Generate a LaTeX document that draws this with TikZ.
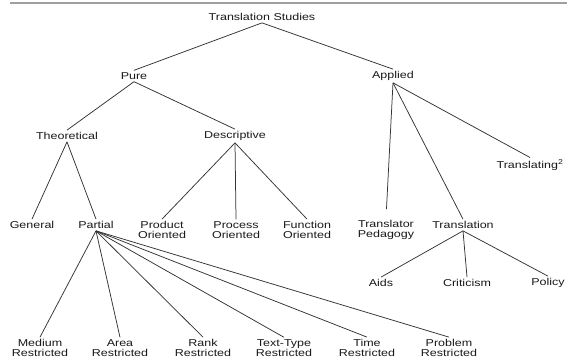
\documentclass[tikz,border=0pt]{standalone}
\usepackage{fontspec}
\setmainfont{Liberation Sans}[FakeStretch=1.25]
\begin{document}
\begin{tikzpicture}[x=1pt,y=-1pt,
  lbl/.style={font=\fontsize{10}{10}\selectfont, text=black!90, inner sep=2pt, align=center},
  edge/.style={draw=black!80, line width=0.75pt}]
\useasboundingbox (0,0) rectangle (567,359);
\fill[white] (0,0) rectangle (567,359);
\draw[gray!75, line width=1.4pt] (10,3) -- (567,3);
% nodes
\node[lbl] (ts) at (262,17) {Translation Studies};
\node[lbl] (pure) at (134,76) {Pure};
\node[lbl] (applied) at (393,76) {Applied};
\node[lbl] (theo) at (67,136) {Theoretical};
\node[lbl] (desc) at (235,136) {Descriptive};
\node[lbl] (general) at (32,225) {General};
\node[lbl] (partial) at (96,225) {Partial};
\node[lbl] (product) at (162,230) {Product\\Oriented};
\node[lbl] (process) at (236,230) {Process\\Oriented};
\node[lbl] (function) at (307,230) {Function\\Oriented};
\node[lbl] (translating) at (530,165) {Translating\textsuperscript{2}};
\node[lbl] (pedagogy) at (386,230) {Translator\\Pedagogy};
\node[lbl] (translation) at (463,225) {Translation};
\node[lbl] (aids) at (381,283) {Aids};
\node[lbl] (criticism) at (467,283) {Criticism};
\node[lbl] (policy) at (548,283) {Policy};
\node[lbl] (medium) at (40,348) {Medium\\Restricted};
\node[lbl] (area) at (120,348) {Area\\Restricted};
\node[lbl] (rank) at (203,348) {Rank\\Restricted};
\node[lbl] (texttype) at (284,348) {Text-Type\\Restricted};
\node[lbl] (time) at (367,348) {Time\\Restricted};
\node[lbl] (problem) at (449,348) {Problem\\Restricted};
% edges
\draw[edge] (ts.south) -- (pure.north);
\draw[edge] (ts.south) -- (applied.north);
\draw[edge] (pure.south) -- (theo.north);
\draw[edge] (pure.south) -- (desc.north);
\draw[edge, shorten >=9pt] (applied.south) -- (pedagogy.north);
\draw[edge] (applied.south) -- (translation.north);
\draw[edge] (applied.south) -- (translating.north);
\draw[edge] (theo.south) -- (general.north);
\draw[edge] (theo.south) -- (partial.north);
\draw[edge] (desc.south) -- (product.north);
\draw[edge] (desc.south) -- (process.north);
\draw[edge] (desc.south) -- (function.north);
\draw[edge] (translation.south) -- (aids.north);
\draw[edge] (translation.south) -- (criticism.north);
\draw[edge] (translation.south) -- (policy.north);
\foreach \c in {medium,area,rank,texttype,time,problem}
  \draw[edge] (partial.south) -- (\c.north);
\end{tikzpicture}
\end{document}
